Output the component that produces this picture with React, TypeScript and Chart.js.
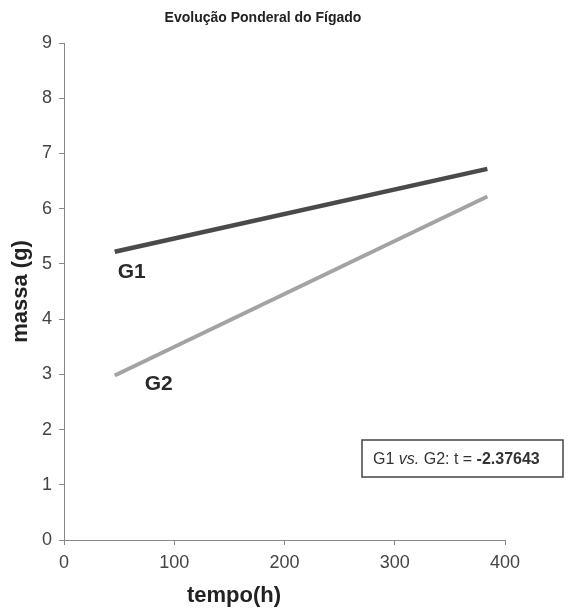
import React, { useEffect, useRef } from "react";
import { Chart, registerables } from "chart.js";

Chart.register(...registerables);

const chartTitle = "Evolução Ponderal do Fígado";
const xAxisTitle = "tempo(h)";
const yAxisTitle = "massa (g)";
const timeHours = [46, 384];
const g1Mass = [5.22, 6.72];
const g2Mass = [2.98, 6.22];
const seriesNames = ["G1", "G2"];
const testLabelParts = [
  { text: "G1 ", style: "" },
  { text: "vs.", style: "italic " },
  { text: " G2: t = ", style: "" },
  { text: "-2.37643", style: "bold " },
];

const FONT = "'Liberation Sans', Arial, sans-serif";

const annotate = {
  id: "annotate",
  afterDraw(chart: any) {
    const ctx = chart.ctx;
    const xs = chart.scales.x;
    const ys = chart.scales.y;
    const area = chart.chartArea;
    ctx.save();
    ctx.fillStyle = "#222";
    ctx.textAlign = "center";
    ctx.textBaseline = "middle";
    ctx.font = `bold 14px ${FONT}`;
    ctx.fillText(chartTitle, 263, 18);

    ctx.font = `bold 22px ${FONT}`;
    ctx.fillText(xAxisTitle, 234, 596);
    ctx.save();
    ctx.translate(21, (area.top + area.bottom) / 2);
    ctx.rotate(-Math.PI / 2);
    ctx.fillText(yAxisTitle, 0, 0);
    ctx.restore();

    // series labels
    ctx.font = `bold 21px ${FONT}`;
    ctx.textAlign = "left";
    ctx.textBaseline = "alphabetic";
    ctx.fillStyle = "#2a2a2a";
    ctx.fillText(seriesNames[0], xs.getPixelForValue(46) + 3, ys.getPixelForValue(g1Mass[0]) + 26);
    ctx.fillText(seriesNames[1], xs.getPixelForValue(46) + 30, ys.getPixelForValue(g2Mass[0]) + 15);

    // test box
    const bx = 362, by = 440, bw = 201, bh = 37;
    ctx.fillStyle = "#fff";
    ctx.fillRect(bx, by, bw, bh);
    ctx.strokeStyle = "#444";
    ctx.lineWidth = 1.5;
    ctx.strokeRect(bx, by, bw, bh);
    ctx.fillStyle = "#333";
    ctx.textBaseline = "middle";
    let tx = 373;
    for (const p of testLabelParts) {
      ctx.font = `${p.style}16px ${FONT}`;
      ctx.fillText(p.text, tx, by + bh / 2 + 1);
      tx += ctx.measureText(p.text).width;
    }
    ctx.restore();
  },
};

export default function App() {
  const ref = useRef<HTMLCanvasElement>(null);
  useEffect(() => {
    if (!ref.current) return;
    const chart = new Chart(ref.current, {
      type: "scatter",
      data: {
        datasets: [
          {
            label: seriesNames[0],
            data: timeHours.map((t, i) => ({ x: t, y: g1Mass[i] })),
            showLine: true,
            borderColor: "#4a4a4a",
            borderWidth: 4.5,
            pointRadius: 0,
          },
          {
            label: seriesNames[1],
            data: timeHours.map((t, i) => ({ x: t, y: g2Mass[i] })),
            showLine: true,
            borderColor: "#a3a3a3",
            borderWidth: 4,
            pointRadius: 0,
          },
        ],
      },
      options: {
        animation: false,
        responsive: false,
        layout: { padding: { left: 0, right: 79, top: 43, bottom: 0 } },
        plugins: { legend: { display: false }, title: { display: false }, tooltip: { enabled: false } },
        scales: {
          x: {
            type: "linear",
            min: 0,
            max: 400,
            afterFit: (s: any) => { s.height = 68; },
            ticks: { stepSize: 100, color: "#444", font: { size: 18, family: FONT }, padding: 7 },
            grid: { drawOnChartArea: false, drawTicks: true, tickLength: 5, color: "#888" },
            border: { display: true, color: "#888", width: 1 },
          },
          y: {
            type: "linear",
            min: 0,
            max: 9,
            afterFit: (s: any) => { s.width = 64; },
            ticks: { stepSize: 1, color: "#444", font: { size: 18, family: FONT }, padding: 7 },
            grid: { drawOnChartArea: false, drawTicks: true, tickLength: 5, color: "#888" },
            border: { display: true, color: "#888", width: 1 },
          },
        },
      },
      plugins: [annotate],
    });
    return () => chart.destroy();
  }, []);
  return (
    <div style={{ position: "absolute", left: 0, top: 0, width: 584, height: 608, background: "#fff" }}>
      <canvas ref={ref} width={584} height={608} style={{ width: 584, height: 608 }} />
    </div>
  );
}
